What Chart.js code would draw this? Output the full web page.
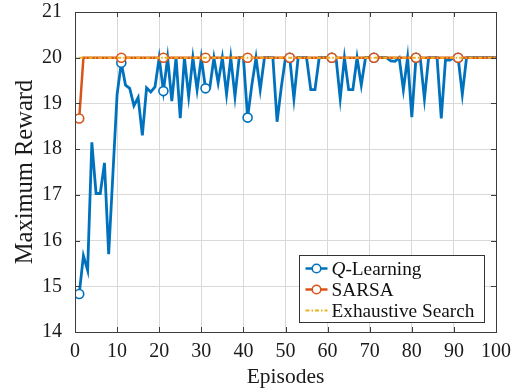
<!DOCTYPE html>
<html>
<head>
<meta charset="utf-8">
<script src="https://cdn.jsdelivr.net/npm/chart.js@4/dist/chart.umd.min.js"></script>
<style>
html,body{margin:0;padding:0;background:#fff;}
canvas{display:block;}
</style>
</head>
<body>
<canvas id="c" width="521" height="391" style="width:521px;height:391px"></canvas>
<script>
const episodes = [1,2,3,4,5,6,7,8,9,10,11,12,13,14,15,16,17,18,19,20,21,22,23,24,25,26,27,28,29,30,31,32,33,34,35,36,37,38,39,40,41,42,43,44,45,46,47,48,49,50,51,52,53,54,55,56,57,58,59,60,61,62,63,64,65,66,67,68,69,70,71,72,73,74,75,76,77,78,79,80,81,82,83,84,85,86,87,88,89,90,91,92,93,94,95,96,97,98,99,100];

const qLearning = [
  14.83, 15.67, 15.35, 18.15, 17.03, 17.03, 17.70, 15.70, 17.45, 19.20,
  19.89, 19.40, 19.33, 18.95, 19.13, 18.30, 19.34, 19.25, 19.36, 20.00,
  19.27, 20.00, 19.05, 20.00, 18.68, 20.00, 19.15, 20.00, 19.30, 20.00,
  19.33, 19.33, 20.00, 19.45, 20.00, 19.20, 20.00, 19.15, 20.00, 20.00,
  18.69, 19.40, 20.00, 19.30, 20.00, 20.00, 20.00, 18.60, 19.35, 20.00,
  20.00, 19.10, 20.00, 20.00, 20.00, 19.30, 19.30, 20.00, 20.00, 20.00,
  20.00, 20.00, 19.10, 20.00, 19.30, 19.30, 20.00, 19.40, 20.00, 20.00,
  20.00, 20.00, 20.00, 20.00, 19.93, 19.92, 20.00, 19.30, 20.00, 18.70,
  20.00, 20.00, 19.10, 20.00, 20.00, 20.00, 18.67, 19.95, 19.95, 20.00,
  20.00, 19.20, 20.00, 20.00, 20.00, 20.00, 20.00, 20.00, 20.00, 20.00
];

const sarsa = [
  18.67, 20, 20, 20, 20, 20, 20, 20, 20, 20,
  20, 20, 20, 20, 20, 20, 20, 20, 20, 20,
  20, 20, 20, 20, 20, 20, 20, 20, 20, 20,
  20, 20, 20, 20, 20, 20, 20, 20, 20, 20,
  20, 20, 20, 20, 20, 20, 20, 20, 20, 20,
  20, 20, 20, 20, 20, 20, 20, 20, 20, 20,
  20, 20, 20, 20, 20, 20, 20, 20, 20, 20,
  20, 20, 20, 20, 20, 20, 20, 20, 20, 20,
  20, 20, 20, 20, 20, 20, 20, 20, 20, 20,
  20, 20, 20, 20, 20, 20, 20, 20, 20, 20
];

const exhaustive = [
  20, 20, 20, 20, 20, 20, 20, 20, 20, 20,
  20, 20, 20, 20, 20, 20, 20, 20, 20, 20,
  20, 20, 20, 20, 20, 20, 20, 20, 20, 20,
  20, 20, 20, 20, 20, 20, 20, 20, 20, 20,
  20, 20, 20, 20, 20, 20, 20, 20, 20, 20,
  20, 20, 20, 20, 20, 20, 20, 20, 20, 20,
  20, 20, 20, 20, 20, 20, 20, 20, 20, 20,
  20, 20, 20, 20, 20, 20, 20, 20, 20, 20,
  20, 20, 20, 20, 20, 20, 20, 20, 20, 20,
  20, 20, 20, 20, 20, 20, 20, 20, 20, 20
];

const xTickValues = [0, 10, 20, 30, 40, 50, 60, 70, 80, 90, 100];
const yTickValues = [14, 15, 16, 17, 18, 19, 20, 21];

const seriesLabels = ['Q-Learning', 'SARSA', 'Exhaustive Search'];
const xTitle = 'Episodes';
const yTitle = 'Maximum Reward';

const C_Q = '#0072BD', C_S = '#D95319', C_E = '#EDB120';
const FONT = '"Liberation Serif", "Times New Roman", serif';

function toPoints(vals) { return vals.map((v, i) => ({ x: episodes[i], y: v })); }
const markerRadius = ctx => (ctx.dataIndex % 10 === 0 ? 4.5 : 0);

const overlay = {
  id: 'overlay',
  afterDraw(chart) {
    const { ctx, chartArea: a, scales: { x, y } } = chart;
    ctx.save();
    ctx.strokeStyle = '#3c3c3c';
    ctx.lineWidth = 1;
    ctx.beginPath();
    xTickValues.forEach(v => {
      const px = Math.round(x.getPixelForValue(v)) + 0.5;
      ctx.moveTo(px, a.bottom); ctx.lineTo(px, a.bottom - 5);
      ctx.moveTo(px, a.top); ctx.lineTo(px, a.top + 5);
    });
    yTickValues.forEach(v => {
      const py = Math.round(y.getPixelForValue(v)) + 0.5;
      ctx.moveTo(a.left, py); ctx.lineTo(a.left + 5, py);
      ctx.moveTo(a.right, py); ctx.lineTo(a.right - 5, py);
    });
    ctx.stroke();
    ctx.strokeRect(Math.round(a.left) + 0.5, Math.round(a.top) + 0.5,
                   Math.round(a.right - a.left), Math.round(a.bottom - a.top));

    // legend
    const bx = Math.round(a.right) - 197 + 0.5, by = Math.round(a.bottom) - 77 + 0.5;
    const bw = 185, bh = 67;
    ctx.fillStyle = '#ffffff';
    ctx.fillRect(bx, by, bw, bh);
    ctx.strokeStyle = '#333333';
    ctx.lineWidth = 1;
    ctx.strokeRect(bx, by, bw, bh);
    const rows = [
      { color: C_Q, marker: true, dash: [], width: 2.5 },
      { color: C_S, marker: true, dash: [], width: 2.5 },
      { color: C_E, marker: false, dash: [4, 2, 1.5, 2], width: 2 }
    ];
    const lx0 = bx + 6, lx1 = bx + 28, tx = bx + 32;
    rows.forEach((r, i) => {
      const ry = by + 13 + i * 21;
      ctx.save();
      ctx.strokeStyle = r.color;
      ctx.lineWidth = r.width;
      ctx.setLineDash(r.dash);
      ctx.beginPath(); ctx.moveTo(lx0, ry); ctx.lineTo(lx1, ry); ctx.stroke();
      ctx.setLineDash([]);
      if (r.marker) {
        ctx.beginPath(); ctx.arc((lx0 + lx1) / 2, ry, 4.3, 0, Math.PI * 2);
        ctx.fillStyle = '#fff'; ctx.fill();
        ctx.lineWidth = 1.6; ctx.stroke();
      }
      ctx.restore();
      ctx.fillStyle = '#111';
      ctx.textBaseline = 'alphabetic';
      ctx.textAlign = 'left';
      const base = ry + 6;
      const fs = '19.3px ';
      if (i === 0) {
        ctx.font = 'italic ' + fs + FONT;
        ctx.fillText('Q', tx, base);
        const w = ctx.measureText('Q').width;
        ctx.font = fs + FONT;
        ctx.fillText(seriesLabels[0].slice(1), tx + w, base);
      } else {
        ctx.font = fs + FONT;
        ctx.fillText(seriesLabels[i], tx, base);
      }
    });
    ctx.restore();
  }
};

new Chart(document.getElementById('c'), {
  type: 'line',
  data: {
    datasets: [
      {
        label: seriesLabels[2], data: toPoints(exhaustive), order: 0,
        borderColor: C_E, borderWidth: 2, borderDash: [4, 2, 1.5, 2],
        pointRadius: 0, fill: false, tension: 0
      },
      {
        label: seriesLabels[1], data: toPoints(sarsa), order: 1,
        borderColor: C_S, borderWidth: 2.5, pointRadius: markerRadius,
        pointBackgroundColor: '#fff', pointBorderColor: C_S, pointBorderWidth: 1.6,
        fill: false, tension: 0
      },
      {
        label: seriesLabels[0], data: toPoints(qLearning), order: 2,
        borderColor: C_Q, borderWidth: 2.8, pointRadius: markerRadius,
        pointBackgroundColor: '#fff', pointBorderColor: C_Q, pointBorderWidth: 1.6,
        fill: false, tension: 0, borderJoinStyle: 'miter'
      }
    ]
  },
  options: {
    responsive: false,
    animation: false,
    devicePixelRatio: 1,
    layout: { padding: { top: 12, right: 25, left: 0, bottom: 0 } },
    plugins: { legend: { display: false }, tooltip: { enabled: false } },
    scales: {
      x: {
        type: 'linear', min: 0, max: 100,
        afterBuildTicks: s => { s.ticks = xTickValues.map(v => ({ value: v })); },
        afterFit: s => { s.height = 59; s.paddingLeft = 0; s.paddingRight = 0; },
        grid: { color: '#d9d9d9', lineWidth: 1, drawTicks: false },
        border: { display: false },
        ticks: { padding: 8, color: '#1a1a1a', font: { family: FONT, size: 20 }, maxRotation: 0 },
        title: { display: true, text: xTitle, color: '#1a1a1a', font: { family: FONT, size: 21.5 }, padding: { top: 0, bottom: 1 } }
      },
      y: {
        type: 'linear', min: 14, max: 21,
        afterBuildTicks: s => { s.ticks = yTickValues.map(v => ({ value: v })); },
        afterFit: s => { s.width = 75; s.paddingTop = 0; s.paddingBottom = 0; },
        grid: { color: '#d9d9d9', lineWidth: 1, drawTicks: false },
        border: { display: false },
        ticks: { padding: 13, color: '#1a1a1a', font: { family: FONT, size: 20 } },
        title: { display: true, text: yTitle, color: '#1a1a1a', font: { family: FONT, size: 24.5 }, padding: { top: 11, bottom: 0 } }
      }
    }
  },
  plugins: [overlay]
});
</script>
</body>
</html>
